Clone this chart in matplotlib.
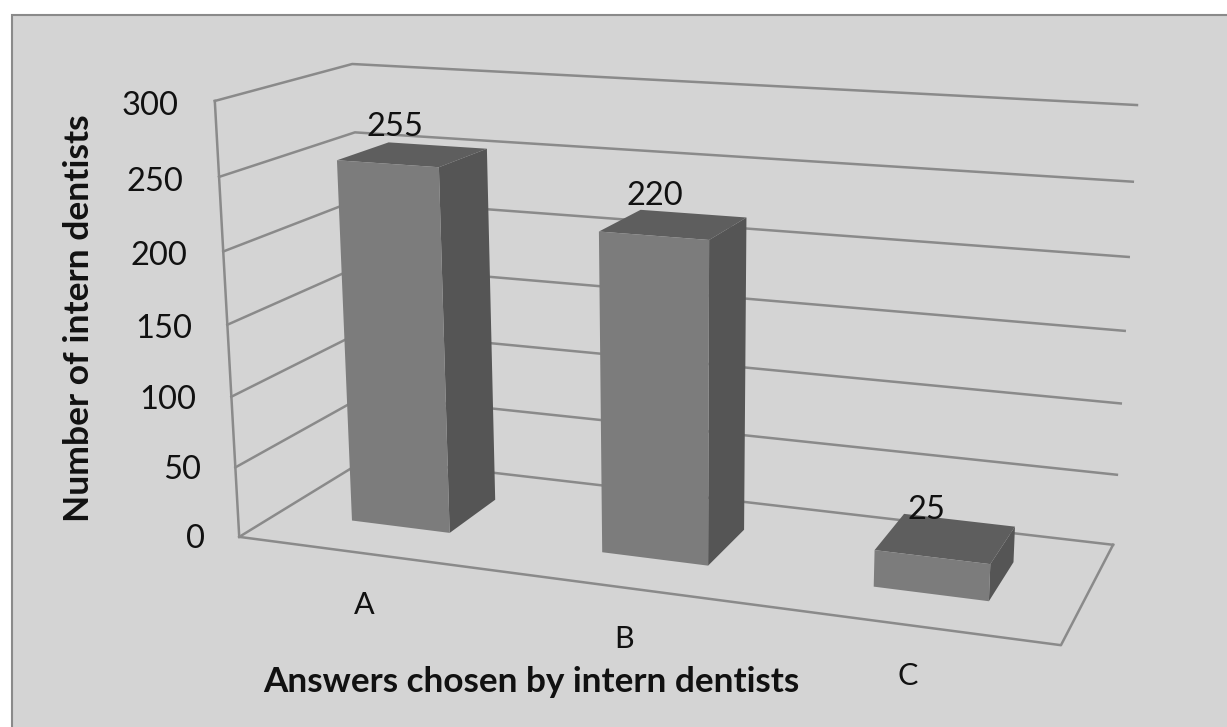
import numpy as np
import matplotlib
matplotlib.use('Agg')
import matplotlib.pyplot as plt
from matplotlib.patches import Rectangle
from mpl_toolkits.mplot3d import proj3d

W, H = 1227, 727

categories = ['A', 'B', 'C']
answers = [255, 220, 25]
z_ticks = [0, 50, 100, 150, 200, 250, 300]

bg_color = '#d4d4d4'
line_color = '#8a8a8a'
front_color = '#7c7c7c'
top_color = '#5e5e5e'
side_color = '#555555'

plt.rcParams['font.family'] = ['Lato', 'DejaVu Sans']


# box corners (x, depth, value) -> where they sit in the picture
box_points = [(0, 0, 0), (0, 0, 300), (0, 1, 300), (0, 1, 0), (3, 1, 300), (3, 1, 0), (3, 0, 0)]
box_pixels = [(239, 537), (215, 101), (352, 64), (368, 458), (1137, 105), (1113, 545), (1061, 645)]

# where the category labels sit in front of the floor
label_x = [0.742, 1.67, 2.60]
label_y = [-0.45, -0.43, -0.41]


def camera_matrix(points, pixels):
    rows = []
    for (x, y, z), (u, v) in zip(points, pixels):
        z = z / 300
        rows.append([x, y, z, 1, 0, 0, 0, 0, -u * x, -u * y, -u * z, -u])
        rows.append([0, 0, 0, 0, x, y, z, 1, -v * x, -v * y, -v * z, -v])
    p = np.linalg.svd(np.array(rows, dtype=float))[2][-1].reshape(3, 4)
    p[:, 2] /= 300
    # third row only orders the faces, further back = larger
    return np.array([p[0], p[1], [0, p[2, 3], 0, p[2, 3]], p[2]])


def label(x, y, z, s, size, ha='center'):
    px, py, _ = proj3d.proj_transform(x, y, z, M)
    ax.text2D(px, py, s, transform=ax.transData, ha=ha, va='center', fontsize=size, color='#111111')


fig = plt.figure(figsize=(W / 100, H / 100), dpi=100, facecolor='white')
fig.add_artist(Rectangle((12 / W, -0.01), 1.0, 1.01 - 15 / H, transform=fig.transFigure,
                         facecolor=bg_color, edgecolor='#8a8a8a', linewidth=1.5, zorder=-1))

ax = fig.add_axes([0, 0, 1, 1], projection='3d', computed_zorder=False)
ax.patch.set_visible(False)
ax.set_axis_off()
ax.set_autoscale_on(False)
ax.set_proj_type('ortho')  # lines get masked outside -1..1 otherwise
M = camera_matrix(box_points, box_pixels)
ax.get_proj = lambda: M
ax.apply_aspect = lambda position=None: None
ax.viewLim.intervalx = (0, W)
ax.viewLim.intervaly = (H, 0)

# walls
for t in z_ticks:
    ax.plot([0, 0, 3], [0, 1, 1], [t, t, t], color=line_color, lw=1.8, zorder=1)
ax.plot([0, 0], [0, 0], [0, 300], color=line_color, lw=1.8, zorder=1)
ax.plot([0, 3, 3], [0, 0, 1], [0, 0, 0], color=line_color, lw=1.8, zorder=1)

# bars, hidden faces left out (-z, +z, -y, +y, -x, +x)
faces = ['none', top_color, front_color, 'none', 'none', side_color]
xpos = np.arange(len(categories)) + 0.3
ax.bar3d(xpos, [0.3] * 3, [0] * 3, 0.4, 0.4, answers, color=faces * 3,
         shade=False, linewidth=0, zorder=2)

for t in z_ticks:
    label(-0.145, 0, t - 5, str(t), 23.5, ha='right')
for i, v in enumerate(answers):
    label(i + 0.43, 0.5, v + 18, str(v), 23.5)
for c, lx, ly in zip(categories, label_x, label_y):
    label(lx, ly, 0, c, 22)

fig.text(79 / W, 1 - 318 / H, 'Number of intern dentists', rotation=90, ha='center', va='center',
         fontsize=25.5, fontweight='bold', color='#111111')
fig.text(531 / W, 1 - 682 / H, 'Answers chosen by intern dentists', ha='center', va='center',
         fontsize=25.3, fontweight='bold', color='#111111')

fig.savefig('out.png', dpi=100, facecolor='white')
